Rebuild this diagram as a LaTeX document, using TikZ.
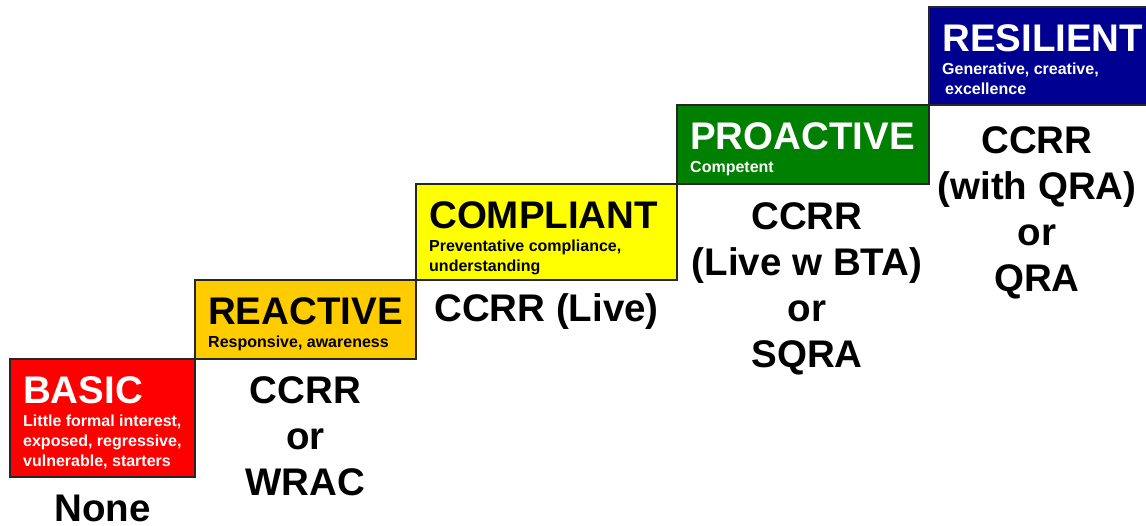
\documentclass[tikz,border=0pt]{standalone}
\usepackage{fontspec}
\setmainfont{Liberation Sans}
\usetikzlibrary{positioning,calc}
\definecolor{basicred}{RGB}{255,0,0}
\definecolor{reactgold}{RGB}{255,204,0}
\definecolor{complyellow}{RGB}{255,255,0}
\definecolor{progreen}{RGB}{0,128,0}
\definecolor{resnavy}{RGB}{0,0,144}
\tikzset{
  stepbox/.style={draw=black!85,line width=1.3pt,anchor=south west,inner sep=0pt,outer sep=0pt},
  steptitle/.style={anchor=base west,inner sep=0pt,font=\bfseries\fontsize{38.5}{38}\selectfont},
  stepnote/.style={anchor=base west,inner sep=0pt,align=left,font=\bfseries\fontsize{16}{20}\selectfont},
  method/.style={anchor=base,inner sep=0pt,align=center,font=\bfseries\fontsize{38.5}{46}\selectfont}
}

\begin{document}
\begin{tikzpicture}[x=1pt,y=1pt]
  \useasboundingbox (0,0) rectangle (1146,526);
  \clip (0,0) rectangle (1146,526);
  % the five steps
  \node[stepbox,fill=basicred,minimum width=185pt,minimum height=118pt] (basic) at (10,49) {};
  \node[stepbox,fill=reactgold,minimum width=221pt,minimum height=79pt] (reactive) at (basic.north east) {};
  \node[stepbox,fill=complyellow,minimum width=261pt,minimum height=96pt] (compliant) at (reactive.north east) {};
  \node[stepbox,fill=progreen,minimum width=252pt,minimum height=79pt] (proactive) at (compliant.north east) {};
  \node[stepbox,fill=resnavy,minimum width=232pt,minimum height=98pt] (resilient) at (proactive.north east) {};
  % titles and notes (base = last line)
  \node[steptitle,text=white] (basic_t) at ($(basic.north west)+(13,-45)$) {BASIC};
  \node[stepnote,text=white] (basic_n) at ($(basic.north west)+(13,-108)$) {Little formal interest,\\exposed, regressive,\\vulnerable, starters};
  \node[steptitle] (reactive_t) at ($(reactive.north west)+(13,-45)$) {REACTIVE};
  \node[stepnote] (reactive_n) at ($(reactive.north west)+(13,-68)$) {Responsive, awareness};
  \node[steptitle] (compliant_t) at ($(compliant.north west)+(13,-45)$) {COMPLIANT};
  \node[stepnote] (compliant_n) at ($(compliant.north west)+(13,-88)$) {Preventative compliance,\\understanding};
  \node[steptitle,text=white] (proactive_t) at ($(proactive.north west)+(13,-45)$) {PROACTIVE};
  \node[stepnote,text=white] (proactive_n) at ($(proactive.north west)+(13,-68)$) {Competent};
  \node[steptitle,text=white] (resilient_t) at ($(resilient.north west)+(13,-45)$) {RESILIENT};
  \node[stepnote,text=white] (resilient_n) at ($(resilient.north west)+(13,-88)$) {Generative, creative,\\\hspace*{3pt}excellence};
  % methods under each step
  \node[method] (basic_m) at ($(basic.south)+(0,-45)$) {None};
  \node[method] (reactive_m) at ($(reactive.south)+(0,-137)$) {CCRR\\or\\WRAC};
  \node[method] (compliant_m) at ($(compliant.south)+(0,-42)$) {CCRR (Live)};
  \node[method] (proactive_m) at ($(proactive.south)+(4,-184)$) {CCRR\\(Live w BTA)\\or\\SQRA};
  \node[method] (resilient_m) at ($(resilient.south)+(-8,-187)$) {CCRR\\(with QRA)\\or\\QRA};
\end{tikzpicture}
\end{document}
